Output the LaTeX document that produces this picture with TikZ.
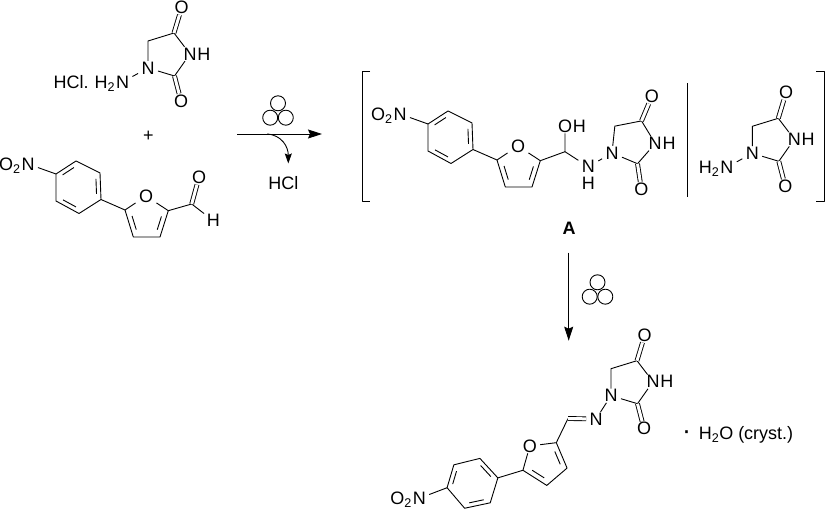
\documentclass[tikz,border=0pt]{standalone}
\usepackage{fontspec}
\setmainfont{Liberation Sans}
\usepackage{tikz}
\usetikzlibrary{calc}
\usetikzlibrary{arrows.meta}
\tikzset{
	every node/.style={font=\fontsize{18}{21}\selectfont},
	atom/.style={inner xsep=3pt, inner ysep=.5pt},
	head/.style={inner sep=0pt, anchor=base east, xshift=3pt},
	tail/.style={inner sep=0pt, anchor=base west, xshift=-3pt},
	note/.style={inner sep=0pt},
	dbl/.style={double, double distance=3pt},
	rxn/.style={-{Stealth[length=14pt,width=9pt,inset=2pt]}},
	lost/.style={-{Stealth[length=10pt,width=7pt,inset=1.5pt]}}
}
\newcommand{\bondin}[4]{\draw ($(#1)!.15!(#2)!#4!(#3)$) -- ($(#2)!.15!(#1)!#4!(#3)$);}
\newcommand{\hydcell}{\node[atom] (n1) at (0,0) {N};
			\coordinate (c5) at (0,-27);
			\coordinate (c4) at (26,-35);
			\coordinate (c2) at (26.5,8);
			\node[atom] (n3) at (42,-14) {N};
			\node[tail] (h3) at (n3.base east) {H};
			\node[atom] (o4) at (33.7,-60.5) {O};
			\node[atom] (o2) at (33,33) {O};
			\draw (n1) -- (c5) -- (c4) -- (n3);
			\draw (n3) -- (c2) -- (n1);
			\draw[dbl] (c4) -- (o4);
			\draw[dbl] (c2) -- (o2);}
\newcommand{\aminecell}{\node[atom] (an) at (-25.5,14) {N};
			\node[head] (ah) at (an.base west) {H\textsubscript{2}};
			\draw (n1) -- (an);}
\newcommand{\furcell}{\node[atom] (nt) at (0,0) {N};
			\node[head] (ox) at (nt.base west) {O\textsubscript{2}};
			\coordinate (b1) at (28,10);
			\coordinate (b2) at (48,-3);
			\coordinate (b3) at (72,9);
			\coordinate (b4) at (73,35.5);
			\coordinate (b5) at (51,49.5);
			\coordinate (b6) at (28,37);
			\coordinate (bc) at (50,23);
			\coordinate (fa) at (97,46);
			\node[atom] (fo) at (118,32) {O};
			\coordinate (fb) at (140.3,46.7);
			\coordinate (fc) at (132,73);
			\coordinate (fd) at (105.3,73);
			\coordinate (fm) at (119,57);
			\draw (nt) -- (b1);
			\draw (b1) -- (b2) -- (b3) -- (b4) -- (b5) -- (b6) -- cycle;
			\draw (b4) -- (fa) -- (fo);
			\draw (fo) -- (fb) -- (fc) -- (fd) -- (fa);
			\bondin{b1}{b2}{bc}{.19}
			\bondin{b3}{b4}{bc}{.19}
			\bondin{b5}{b6}{bc}{.19}
			\bondin{fa}{fd}{fm}{.28}
			\bondin{fb}{fc}{fm}{.28}}
\newcommand{\catcell}{\draw (0,-8.7) circle (7.5);
			\draw (-7.8,5.7) circle (7.5);
			\draw (7.8,5.7) circle (7.5);}

\begin{document}
\begin{tikzpicture}[x=1pt, y=-1pt, line width=.9pt, line join=round]
	\useasboundingbox (0,0) rectangle (825,510);

	\begin{scope}[shift={(148,68)}, name prefix=top-]
		\hydcell
		\aminecell
	\end{scope}
	\node[head] (salt) at ([xshift=-8pt]top-ah.base west) {HCl.};
	\node[note] (plus) at (148.3,136) {+};

	\begin{scope}[shift={(28,164)}, name prefix=ald-]
		\furcell
	\end{scope}
	\coordinate (cho) at (191.7,204);
	\node[atom] (choo) at (199,177.3) {O};
	\node[atom] (choh) at (213.3,220.7) {H};
	\draw (ald-fb) -- (cho) -- (choh);
	\draw[dbl] (cho) -- (choo);

	\begin{scope}[shift={(278,112)}]
		\catcell
	\end{scope}
	\coordinate (ra) at (237,134);
	\coordinate (rb) at (322,134);
	\coordinate (la) at (267,134);
	\coordinate (lb) at (288.3,163.5);
	\draw[rxn] (ra) -- (rb);
	\draw[lost] (la) .. controls (282,135) and (288.3,147) .. (lb);
	\node[note] (hcl) at (283.3,183.3) {HCl};

	\coordinate (la1) at (370,71);
	\coordinate (la2) at (362.3,71);
	\coordinate (la3) at (362.3,201.7);
	\coordinate (la4) at (370,201.7);
	\draw (la1) -- (la2) -- (la3) -- (la4);

	\begin{scope}[shift={(400,114)}, name prefix=int-]
		\furcell
	\end{scope}
	\coordinate (cho2) at (565,151.7);
	\node[atom] (oh) at (565,126) {O};
	\node[tail] (ohh) at (oh.base east) {H};
	\node[atom] (nh) at (588.3,166.8) {N};
	\node[note] (nhh) at (588.3,183) {H};
	\draw (int-fb) -- (cho2) -- (oh);
	\draw (cho2) -- (nh);
	\begin{scope}[shift={(612,153)}, rotate=-6, name prefix=mid-]
		\hydcell
	\end{scope}
	\draw (nh) -- (mid-n1);

	\coordinate (sa) at (687.7,83.3);
	\coordinate (sb) at (687.7,197.3);
	\draw (sa) -- (sb);

	\begin{scope}[shift={(752.3,153.3)}, name prefix=rgt-]
		\hydcell
		\aminecell
	\end{scope}

	\coordinate (ra1) at (816,71);
	\coordinate (ra2) at (824.3,71);
	\coordinate (ra3) at (824.3,201.7);
	\coordinate (ra4) at (816,201.7);
	\draw (ra1) -- (ra2) -- (ra3) -- (ra4);
	\node[note, font=\fontsize{18}{21}\selectfont\bfseries] (lbla) at (569,228.3) {A};

	\coordinate (da) at (568.7,252.7);
	\coordinate (db) at (568.7,340.7);
	\draw[rxn] (da) -- (db);
	\begin{scope}[shift={(597.5,291)}]
		\catcell
	\end{scope}

	\begin{scope}[shift={(419.3,498.3)}, rotate=40.5, name prefix=pro-]
		\furcell
	\end{scope}
	\coordinate (chn) at (568,418.5);
	\node[atom] (imn) at (596,419) {N};
	\draw (pro-fb) -- (chn);
	\draw[dbl] (chn) -- (imn);
	\begin{scope}[shift={(611,395.7)}, name prefix=end-]
		\hydcell
	\end{scope}
	\draw (imn) -- (end-n1);
	\node[note, anchor=base, font=\fontsize{27}{27}\selectfont] (dot) at (686.7,440) {·};
	\node[note, anchor=base west] (water) at (698.3,440) {H\textsubscript{2}O (cryst.)};
\end{tikzpicture}
\end{document}
